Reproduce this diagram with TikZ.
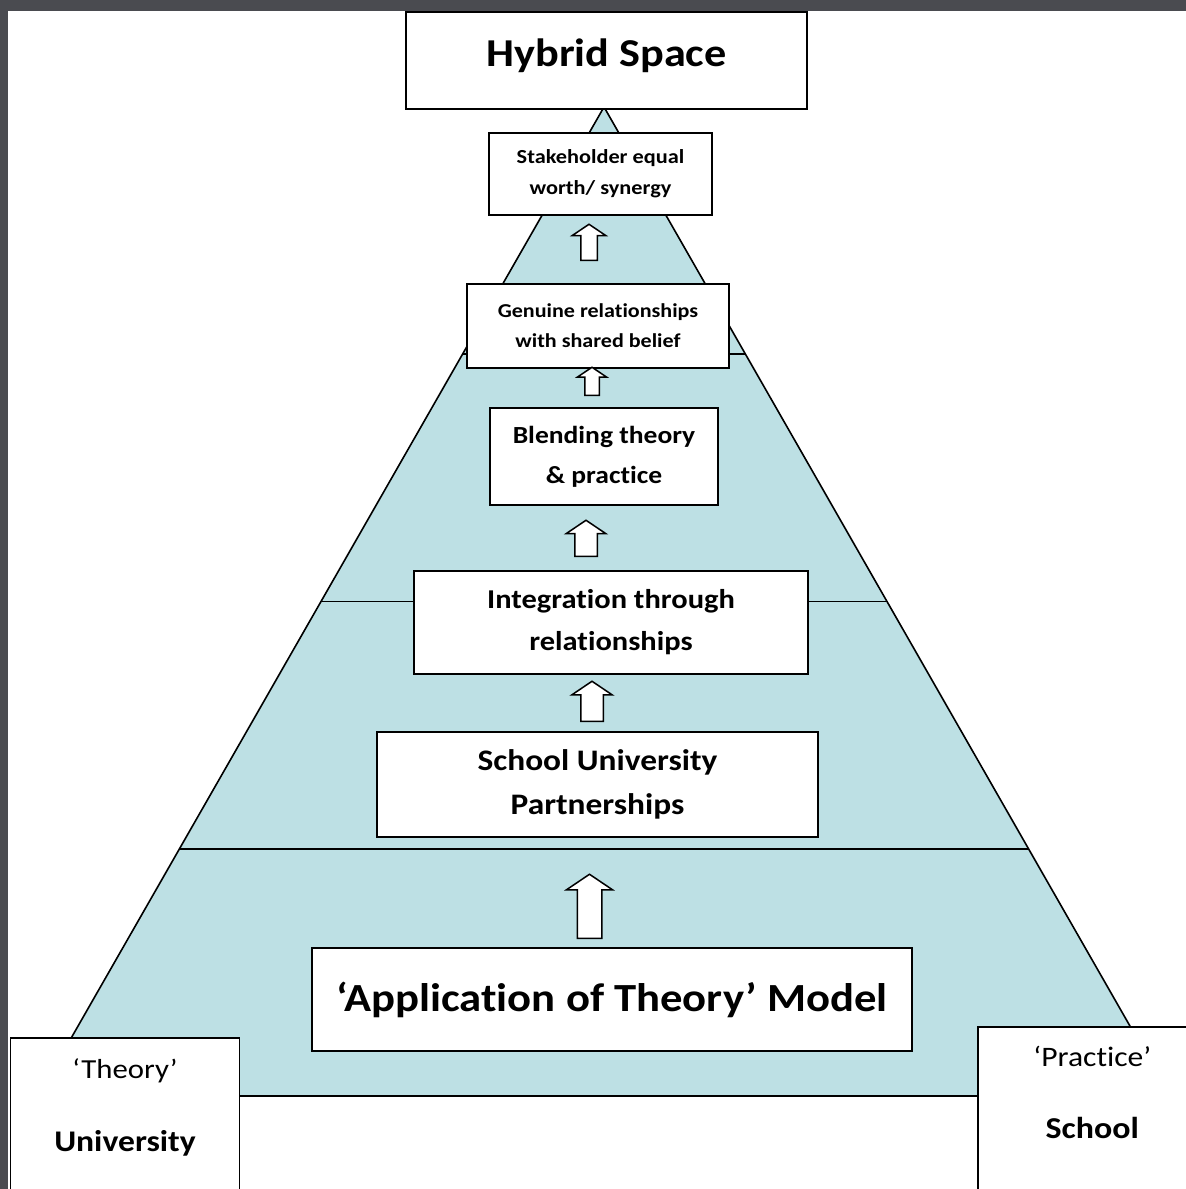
\documentclass[tikz,border=0pt]{standalone}
\usepackage{fontspec}
\setmainfont{Carlito}[FakeStretch=1.12, Ligatures=NoCommon]
\usetikzlibrary{shapes.arrows,positioning,calc}
\definecolor{pyramidblue}{RGB}{189,224,228}
\definecolor{framegray}{RGB}{74,75,80}
\newcommand{\stagefont}[2]{\fontsize{#1}{#2}\selectfont\bfseries}

\begin{document}
\begin{tikzpicture}[x=1pt,y=-1pt,
  stage/.style={rectangle, draw, fill=white, line width=1.8pt, align=center, inner sep=0pt},
  sidebox/.style={rectangle, draw, fill=white, line width=1.8pt, anchor=north west, minimum height=200},
  uparrow/.style n args={4}{single arrow, draw, fill=white, line width=1.5pt, shape border rotate=90, inner sep=#3, single arrow tip angle=112, anchor=tail, minimum height=#1, minimum width=#2, single arrow head extend=#4}]

\useasboundingbox (0,0) rectangle (1186,1189);
\fill[white] (0,0) rectangle (1186,1189);

% FRAME
\fill[framegray] (0,0) rectangle (1186,11);
\fill[framegray] (0,0) rectangle (8,1189);

% PYRAMID
\coordinate (apex) at (604,107);
\coordinate (baseleft) at (38,1096);
\coordinate (baseright) at (1170,1096);
\filldraw[fill=pyramidblue, line width=1.6pt] (apex) -- (baseleft) -- (baseright) -- cycle;
\foreach \t in {0.25,0.5,0.75}
  \draw[line width=1.6pt] ($(apex)!\t!(baseleft)$) -- ($(apex)!\t!(baseright)$);

% STAGES
\node[stage, minimum width=401, minimum height=97, text height=26pt, text depth=15pt, font=\stagefont{39.5}{44}] (hybrid) at (606.5,60.5) {Hybrid Space};

\node[stage, minimum width=223, minimum height=82, font=\stagefont{19.9}{31}] (stakeholder) at (600.5,174) {Stakeholder equal\\worth/ synergy};

\node[stage, minimum width=262, minimum height=84, font=\stagefont{19.7}{30}] (genuine) at (598,325.8) {Genuine relationships\\with shared belief};

\node[stage, minimum width=228, minimum height=97, font=\stagefont{24.6}{40}] (blending) at (604,456.5) {Blending theory\\\& practice};

\node[stage, minimum width=394, minimum height=103, font=\stagefont{27.2}{42}] (integration) at (611,622.5) {Integration through\\relationships};

\node[stage, minimum width=441, minimum height=105, font=\stagefont{29.8}{44}] (partnerships) at (597.5,784.5) {School University\\Partnerships};

\node[stage, minimum width=600, minimum height=103, font=\stagefont{39.9}{48}] (application) at (612,999.5) {‘Application of Theory’ Model};

% SIDES
\node[sidebox, minimum width=229] (unibox) at (9.6,1037.3) {};
\node[below=41pt of unibox.north, anchor=base, font=\fontsize{27.5}{32}\selectfont] (theorylabel) {‘Theory’};
\node[below=72.7pt of theorylabel.base, anchor=base, font=\stagefont{30}{34}] (unilabel) {University};

\node[sidebox, minimum width=228] (schoolbox) at (977.4,1025.7) {};
\node[below=41pt of schoolbox.north, anchor=base, font=\fontsize{28.2}{32}\selectfont] (practicelabel) {‘Practice’};
\node[below=71.6pt of practicelabel.base, anchor=base, font=\stagefont{30.3}{34}] (schoollabel) {School};

% ARROWS
\node[uparrow={36}{32}{7.5}{8.5}] (arrowfive) at (589,261) {};
\node[uparrow={28}{28}{6.5}{7.5}] (arrowfour) at (592,396) {};
\node[uparrow={36}{38}{10.5}{8.5}] (arrowthree) at (586,557) {};
\node[uparrow={40}{39}{10.5}{9}] (arrowtwo) at (592,722) {};
\node[uparrow={64}{45}{11.5}{11}] (arrowone) at (589.5,939) {};

\end{tikzpicture}
\end{document}
